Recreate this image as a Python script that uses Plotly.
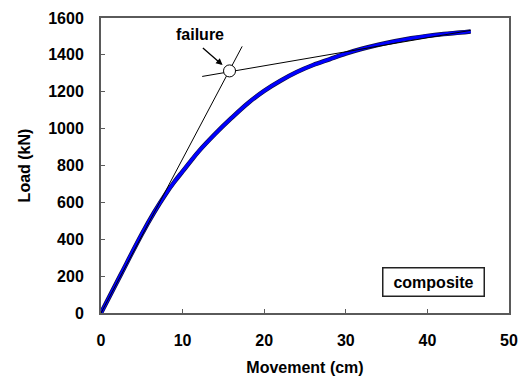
import plotly.graph_objects as go

# Load-movement curve
movement = [0, 1, 2.5, 5, 6.5, 8, 9, 10, 11, 12, 14, 16, 18, 20, 22, 24, 26, 28, 30, 32, 34, 36, 38, 40, 42, 44, 45.3]
load = [0, 86, 215, 428, 545, 650, 712, 768, 824, 878, 972, 1058, 1138, 1205, 1260, 1307, 1345, 1376, 1407, 1433, 1455, 1474, 1490, 1503, 1513, 1521, 1527]

# Tangent construction lines
tan1_x = [0, 17.3]
tan1_y = [0, 1446]
tan2_x = [12.4, 45.3]
tan2_y = [1283, 1533]

failure_x = [15.75]
failure_y = [1313]

FONT = "Liberation Sans, Arial, sans-serif"
AX = "#5a5a5a"

fig = go.Figure()
fig.add_trace(go.Scatter(x=movement, y=load, mode="lines", line_shape="spline",
                         line=dict(color="#101040", width=4.5), hoverinfo="skip"))
fig.add_trace(go.Scatter(x=movement, y=load, mode="lines", line_shape="spline",
                         line=dict(color="#0000ff", width=3.2)))
fig.add_trace(go.Scatter(x=tan1_x, y=tan1_y, mode="lines",
                         line=dict(color="black", width=1)))
fig.add_trace(go.Scatter(x=tan2_x, y=tan2_y, mode="lines",
                         line=dict(color="black", width=1)))
fig.add_trace(go.Scatter(x=failure_x, y=failure_y, mode="markers",
                         marker=dict(size=12, color="white", line=dict(color="black", width=1))))

fig.add_annotation(x=14.9, y=1345, ax=12.3, ay=1444, xref="x", yref="y",
                   axref="x", ayref="y", text="", showarrow=True,
                   arrowhead=2, arrowsize=1, arrowwidth=1.3, arrowcolor="black")
fig.add_annotation(x=12.1, y=1511, xref="x", yref="y", text="<b>failure</b>",
                   showarrow=False, font=dict(family=FONT, size=16, color="black"))
fig.add_annotation(x=40.8, y=168, xref="x", yref="y", text="<b>composite</b>",
                   showarrow=False, font=dict(family=FONT, size=16, color="black"),
                   bordercolor="#222", borderwidth=1.5, borderpad=3,
                   width=94, height=21, bgcolor="white")

fig.update_layout(
    width=527, height=376,
    margin=dict(l=101, r=18, t=18, b=63),
    plot_bgcolor="white", paper_bgcolor="white",
    showlegend=False,
    font=dict(family=FONT, size=16, color="black"),
)
fig.update_xaxes(range=[0, 50], dtick=10, tick0=0, automargin=False,
                 showline=True, linecolor=AX, linewidth=2, mirror=True,
                 ticks="inside", ticklen=4, tickcolor=AX, showgrid=False, zeroline=False,
                 tickfont=dict(family=FONT, size=16, color="black", weight="bold"),
                 ticklabelstandoff=12,
                 title=dict(text="<b>Movement (cm)</b>", font=dict(family=FONT, size=16), standoff=16))
fig.update_yaxes(range=[0, 1600], dtick=200, tick0=0, automargin=False,
                 showline=True, linecolor=AX, linewidth=2, mirror=True,
                 ticks="inside", ticklen=4, tickcolor=AX, showgrid=False, zeroline=False,
                 tickfont=dict(family=FONT, size=16, color="black", weight="bold"),
                 ticklabelstandoff=12,
                 title=dict(text="<b>Load (kN)</b>", font=dict(family=FONT, size=16), standoff=14))

fig.write_html("out.html")
